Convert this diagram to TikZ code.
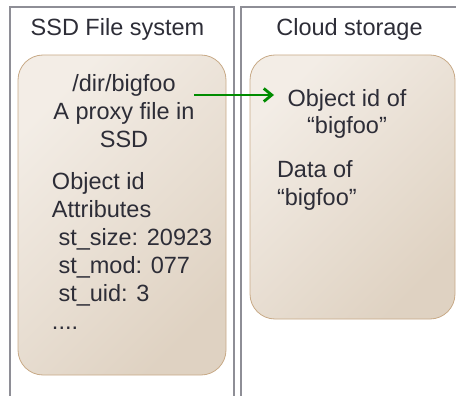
\documentclass[tikz,border=0pt]{standalone}
\usepackage{fontspec}
\setmainfont{Liberation Sans}
\usetikzlibrary{arrows.meta}
\definecolor{panelgray}{RGB}{142,142,150}
\definecolor{boxlight}{RGB}{243,237,230}
\definecolor{boxdark}{RGB}{223,210,194}
\definecolor{boxedge}{RGB}{200,170,135}
\definecolor{textdark}{RGB}{45,45,55}
\definecolor{linkgreen}{RGB}{0,140,0}
\tikzset{
  panel/.style={draw=panelgray, line width=1.6pt},
  storebox/.style={rectangle, rounded corners=25pt, draw=boxedge, line width=0.8pt,
    top color=boxlight, bottom color=boxdark, shading angle=45},
  boxtext/.style={text=textdark, font=\fontsize{23.5}{28}\selectfont},
  link/.style={draw=linkgreen, line width=2.8pt, -{Straight Barb[length=8pt,width=13pt]}}
}
\begin{document}
\begin{tikzpicture}[y=1pt, x=1pt, yscale=-1, inner sep=0pt, outer sep=0pt]
  \useasboundingbox (0,0) rectangle (456,396);
  % the two columns
  \draw[panel] (10,400) -- (10,7) -- (234,7) -- (234,400);
  \draw[panel] (241,400) -- (241,7) -- (460,7);
  \node[boxtext, anchor=base] (ssdtitle) at (117.5,36) {SSD File system};
  \node[boxtext, anchor=base] (cloudtitle) at (349.5,36) {Cloud storage};
  % storage boxes
  \node[storebox, minimum width=208pt, minimum height=320pt] (ssdbox) at (122,215) {};
  \node[storebox, minimum width=205pt, minimum height=264pt] (cloudbox) at (352.5,187) {};
  % contents (base = last line)
  \node[boxtext, anchor=base, align=center] (proxyfile) at (124,147) {/dir/bigfoo\\A proxy file in\\SSD};
  \node[boxtext, anchor=base west, align=left] (attrs) at (52,329)
    {Object id\\Attributes\\\ st\_size: 20923\\\ st\_mod: 077\\\ st\_uid: 3\\....};
  \node[boxtext, anchor=base, align=center] (objid) at (347,134) {Object id of\\“bigfoo”};
  \node[boxtext, anchor=base west, align=left] (bigdata) at (277,205) {Data of\\“bigfoo”};
  % pointer to the object
  \coordinate (linktail) at (194,95);
  \coordinate (linkhead) at (274,95);
  \draw[link] (linktail) -- (linkhead);
\end{tikzpicture}
\end{document}
